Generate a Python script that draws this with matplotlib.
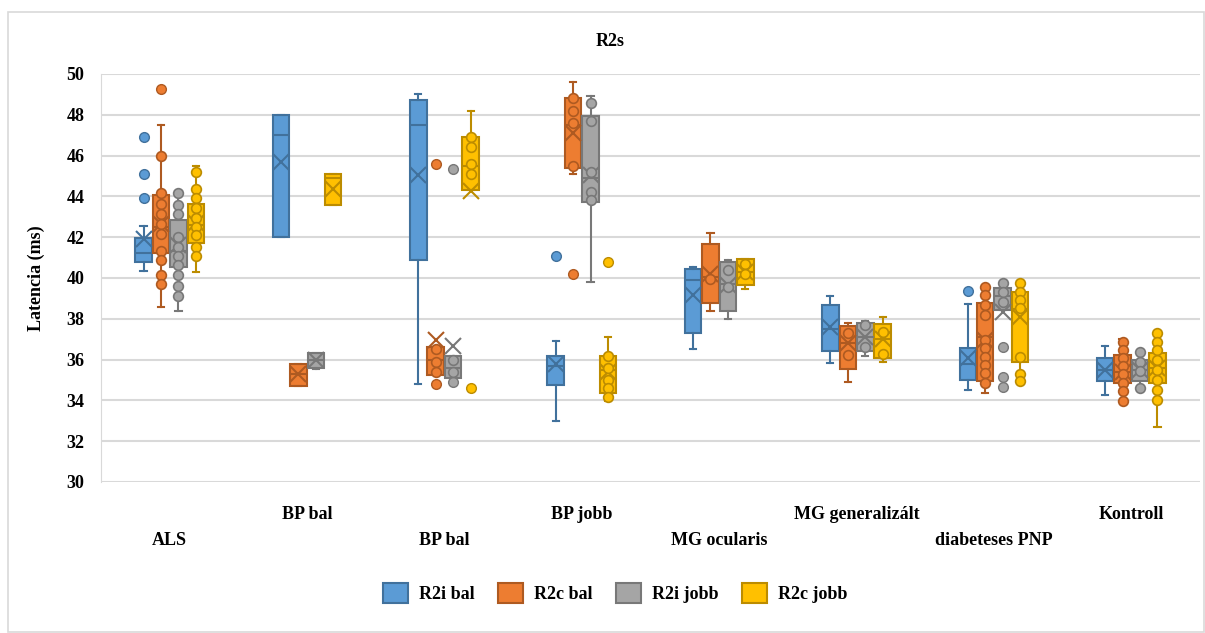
import matplotlib
matplotlib.use("Agg")
import matplotlib.pyplot as plt
from matplotlib.patches import Patch, Rectangle

# category labels (two "BP bal" groups in the original)
categories = ["ALS", "BP bal", "BP bal", "BP jobb", "MG ocularis",
              "MG generalizált", "diabeteses PNP", "Kontroll"]
series = ["R2i bal", "R2c bal", "R2i jobb", "R2c jobb"]

# box stats per category: (whisker low, Q1, median, Q3, whisker high, mean)
r2i_bal_box = [
    (40.34, 40.79, 41.23, 41.94, 42.56, 41.90),
    (42.00, 42.00, 47.00, 48.00, 48.00, 45.70),
    (34.79, 40.90, 47.50, 48.72, 49.00, 45.04),
    (32.97, 34.77, 35.70, 36.20, 36.90, 35.80),
    (36.50, 37.28, 39.90, 40.42, 40.52, 39.16),
    (35.81, 36.43, 37.50, 38.67, 39.11, 37.60),
    (34.52, 35.00, 35.80, 36.56, 38.73, 36.07),
    (34.25, 34.97, 35.50, 36.08, 36.69, 35.50),
]
r2c_bal_box = [
    (38.59, 41.23, 42.50, 44.06, 47.50, 42.67),
    (34.70, 34.70, 35.30, 35.80, 35.80, 35.30),
    (35.23, 35.23, 36.00, 36.62, 36.62, 36.95),
    (45.08, 45.40, 47.50, 48.80, 49.59, 47.10),
    (38.39, 38.78, 40.05, 41.69, 42.20, 40.20),
    (34.89, 35.54, 36.80, 37.65, 37.80, 36.80),
    (34.36, 34.93, 37.10, 38.76, 39.60, 36.97),
    (33.99, 34.86, 35.40, 36.24, 37.03, 35.40),
]
r2i_jobb_box = [
    (38.37, 40.52, 41.30, 42.84, 44.28, 41.60),
    (35.55, 35.60, 36.00, 36.30, 36.30, 36.00),
    (35.10, 35.10, 35.60, 36.20, 36.20, 36.65),
    (39.80, 43.74, 44.90, 47.94, 48.92, 45.04),
    (38.00, 38.39, 39.70, 40.76, 40.90, 39.68),
    (36.18, 36.43, 37.10, 37.77, 37.89, 37.10),
    (38.43, 38.43, 39.10, 39.49, 39.79, 38.35),
    (34.61, 34.97, 35.50, 36.00, 36.38, 35.50),
]
r2c_jobb_box = [
    (40.30, 41.73, 42.60, 43.62, 45.49, 42.70),
    (43.57, 43.57, 44.90, 45.09, 45.09, 44.34),
    (44.31, 44.31, 45.50, 46.89, 48.20, 44.25),
    (33.96, 34.35, 35.50, 36.20, 37.11, 35.40),
    (39.48, 39.64, 40.30, 40.92, 40.92, 40.30),
    (35.87, 36.07, 37.00, 37.75, 38.11, 37.00),
    (34.85, 35.86, 38.50, 39.33, 39.87, 38.10),
    (32.70, 34.86, 35.60, 36.33, 37.30, 35.60),
]

# inner points per category
r2i_bal_pts = [[], [], [], [], [], [], [], []]
r2c_bal_pts = [
    [45.99, 44.15, 43.62, 43.13, 42.67, 42.15, 41.33, 40.90, 40.17, 39.70],
    [], [36.54, 35.89, 35.40], [48.80, 48.20, 47.60, 45.50], [39.97],
    [37.30, 36.24],
    [39.58, 39.17, 38.68, 38.19, 36.97, 36.56, 36.15, 35.74, 35.33, 34.85],
    [36.85, 36.49, 36.08, 35.67, 35.27, 34.86, 34.45, 33.99],
]
r2i_jobb_pts = [
    [44.15, 43.60, 43.13, 42.02, 41.50, 41.10, 40.66, 40.15, 39.59, 39.14],
    [], [36.00, 35.40], [48.60, 47.70, 45.20, 44.20, 43.80], [40.40, 39.55],
    [37.70, 36.60], [39.74, 39.33, 38.84], [36.38, 35.90, 35.43, 34.61],
]
r2c_jobb_pts = [
    [45.18, 44.35, 43.90, 43.41, 42.92, 42.50, 42.10, 41.50, 41.10],
    [], [46.90, 46.40, 45.60, 45.10], [36.20, 35.60, 35.00, 34.60, 34.17],
    [40.70, 40.20], [37.35, 36.28],
    [39.74, 39.33, 38.92, 38.52, 36.15, 35.30, 34.93],
    [37.30, 36.85, 36.49, 36.00, 35.51, 35.02, 34.53, 34.04],
]

# outliers per category
r2i_bal_out = [[43.90, 45.08, 46.93], [], [], [41.09], [], [], [39.38], []]
r2c_bal_out = [[49.25], [], [45.58, 34.79], [40.19], [], [], [], []]
r2i_jobb_out = [[], [], [45.32, 34.90], [], [], [], [36.60, 35.14, 34.65], []]
r2c_jobb_out = [[], [], [34.60], [40.80], [], [], [], []]

fills = ["#5B9BD5", "#ED7D31", "#A5A5A5", "#FFC000"]
edges = ["#41719C", "#AE5A21", "#787878", "#BC8C00"]

plt.rcParams["font.family"] = ["Liberation Serif", "DejaVu Serif"]
plt.rcParams["font.weight"] = "bold"
plt.rcParams["font.size"] = 13

W, H = 1205, 633
fig = plt.figure(figsize=(W / 100, H / 100), dpi=100)
fig.patches.append(Rectangle((8 / W, 1 / H), 1196 / W, 620 / H, transform=fig.transFigure,
                             facecolor="none", edgecolor="#D9D9D9", lw=1.2))
ax = fig.add_axes([101 / W, 1 - 482 / H, 1099 / W, 408 / H])

all_box = [r2i_bal_box, r2c_bal_box, r2i_jobb_box, r2c_jobb_box]
all_pts = [r2i_bal_pts, r2c_bal_pts, r2i_jobb_pts, r2c_jobb_pts]
all_out = [r2i_bal_out, r2c_bal_out, r2i_jobb_out, r2c_jobb_out]

step = 0.127
width = 0.12
for s in range(4):
    offset = (s - 1.5) * step
    pos = [i + offset for i in range(len(categories))]
    stats = []
    for i, (lo, q1, med, q3, hi, mean) in enumerate(all_box[s]):
        stats.append(dict(whislo=lo, q1=q1, med=med, q3=q3, whishi=hi, mean=mean,
                          fliers=all_out[s][i]))
    ax.bxp(stats, positions=pos, widths=width, capwidths=0.045, patch_artist=True,
           showmeans=True, manage_ticks=False,
           boxprops=dict(facecolor=fills[s], edgecolor=edges[s], lw=1.5),
           medianprops=dict(color=edges[s], lw=1.5),
           whiskerprops=dict(color=edges[s], lw=1.5),
           capprops=dict(color=edges[s], lw=1.5),
           meanprops=dict(marker="x", markeredgecolor=edges[s], markersize=11, mew=1.5),
           flierprops=dict(marker="o", markerfacecolor=fills[s], markeredgecolor=edges[s],
                           markersize=7, mew=1.0))
    for i, vals in enumerate(all_pts[s]):
        ax.plot([pos[i]] * len(vals), vals, "o", mfc=fills[s], mec=edges[s],
                ms=7, mew=1.2, zorder=4)

ax.set_xlim(-0.5, len(categories) - 0.5)
ax.set_ylim(30, 50)
ax.set_yticks(range(30, 51, 2))
ax.yaxis.grid(True, color="#D9D9D9", lw=1.5)
ax.set_axisbelow(True)
for side in ["top", "right", "bottom"]:
    ax.spines[side].set_visible(False)
ax.spines["left"].set_color("#D9D9D9")
ax.tick_params(axis="y", length=0, pad=12)

# staggered category labels: odd ones upper row, even ones lower row
ax.set_xticks(range(1, len(categories), 2))
ax.set_xticklabels(categories[1::2])
ax.set_xticks(range(0, len(categories), 2), minor=True)
ax.set_xticklabels(categories[0::2], minor=True)
ax.tick_params(axis="x", which="major", length=0, pad=17)
ax.tick_params(axis="x", which="minor", length=0, pad=36)

fig.text(610 / W, 1 - 41 / H, "R2s", ha="center", va="center")
fig.text(36 / W, 1 - 278 / H, "Latencia (ms)", ha="center", va="center", rotation=90)

handles = [Patch(facecolor=fills[s], edgecolor=edges[s], lw=1.5, label=series[s])
           for s in range(4)]
fig.legend(handles=handles, loc="center", bbox_to_anchor=(615 / W, 1 - 593 / H), ncol=4,
           frameon=False, handlelength=1.4, handleheight=1.4, handletextpad=0.6,
           columnspacing=1.3)

fig.savefig("out.png", dpi=100)
